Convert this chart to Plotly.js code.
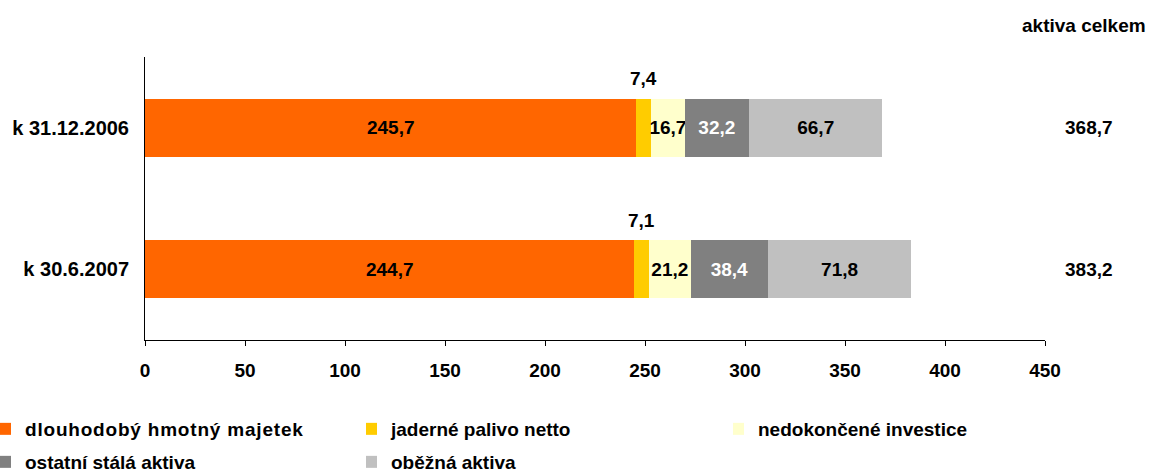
<!DOCTYPE html>
<html>
<head>
<meta charset="utf-8">
<script src="https://cdn.plot.ly/plotly-3.0.1.min.js"></script>
<style>
html,body{margin:0;padding:0;background:#fff;}
#chart{width:1151px;height:472px;}
.legendtext{letter-spacing:0.8px;}
</style>
</head>
<body>
<div id="chart"></div>
<script>
const categories = ["k 31.12.2006", "k 30.6.2007"];
const dlouhodoby = [245.7, 244.7];
const jaderne = [7.4, 7.1];
const nedokoncene = [16.7, 21.2];
const ostatni = [32.2, 38.4];
const obezna = [66.7, 71.8];
const totals = [368.7, 383.2];
const seriesNames = ["dlouhodobý hmotný majetek", "jaderné palivo netto", "nedokončené investice", "ostatní stálá aktiva", "oběžná aktiva"];
const totalTitle = "aktiva celkem";

const FONT = "Liberation Sans, Arial, sans-serif";
const fmt = v => v.toFixed(1).replace('.', ',');

// plot area in page pixels
const PL = 145, PR = 1045, PT = 57, PB = 340;
const PW = PR - PL, PH = PB - PT;

function barTrace(vals, name, color, textColor, showText, legendId) {
  return {
    type: 'bar', orientation: 'h', y: categories, x: vals, name: name,
    marker: {color: color, line: {width: 0}},
    text: showText ? vals.map(fmt) : null,
    textposition: showText ? 'inside' : 'none',
    insidetextanchor: 'middle',
    textangle: 0,
    constraintext: 'none',
    insidetextfont: {family: FONT, size: 19, weight: 'bold', color: textColor},
    legend: legendId,
    hoverinfo: 'x+name'
  };
}

const traces = [
  barTrace(dlouhodoby, seriesNames[0], '#FF6600', '#000000', true, 'legend'),
  barTrace(jaderne, seriesNames[1], '#FFCC00', '#000000', false, 'legend2'),
  barTrace(nedokoncene, seriesNames[2], '#FFFFCC', '#000000', true, 'legend3'),
  barTrace(ostatni, seriesNames[3], '#808080', '#FFFFFF', true, 'legend4'),
  barTrace(obezna, seriesNames[4], '#C0C0C0', '#000000', true, 'legend5')
];

const annFont = {family: FONT, size: 19, weight: 'bold', color: '#000'};
const annotations = [];
categories.forEach((c, i) => {
  annotations.push({
    x: dlouhodoby[i] + jaderne[i] / 2, y: c, xref: 'x', yref: 'y',
    text: fmt(jaderne[i]), showarrow: false, yshift: 49, font: annFont
  });
  annotations.push({
    x: (1089 - PL) / PW, y: c, xref: 'paper', yref: 'y',
    text: fmt(totals[i]), showarrow: false, xanchor: 'center', font: annFont
  });
});
annotations.push({
  x: (1148 - PL) / PW, y: (PB - 25) / PH, xref: 'paper', yref: 'paper', xanchor: 'right', yanchor: 'middle',
  text: totalTitle, showarrow: false, font: annFont
});

function legendAt(px, pyTop) {
  return {
    orientation: 'h', x: (px - PL) / PW, xanchor: 'left',
    y: (PB - pyTop) / PH, yanchor: 'top',
    indentation: -15, bgcolor: 'rgba(0,0,0,0)', borderwidth: 0,
    font: {family: FONT, size: 19, weight: 'bold', color: '#000'}
  };
}

const layout = {
  width: 1151, height: 472,
  margin: {l: PL, r: 1151 - PR, t: PT, b: 472 - PB, autoexpand: false},
  paper_bgcolor: '#fff', plot_bgcolor: '#fff',
  barmode: 'stack', bargap: 0.59,
  separators: ', ',
  font: {family: FONT, size: 19, weight: 'bold', color: '#000'},
  xaxis: {
    range: [0, 450], dtick: 50, tick0: 0, showgrid: false, zeroline: false,
    showline: true, linecolor: '#000', linewidth: 1,
    ticks: 'outside', ticklen: 5, tickcolor: '#000', tickwidth: 1,
    ticklabelstandoff: 8, automargin: false,
    tickfont: {family: FONT, size: 19, weight: 'bold', color: '#000'},
    fixedrange: true
  },
  yaxis: {
    type: 'category', range: [1.5, -0.5], showgrid: false, zeroline: false,
    showline: true, linecolor: '#000', linewidth: 1, ticks: '',
    ticklabelstandoff: 11, automargin: false,
    tickfont: {family: FONT, size: 20, weight: 'bold', color: '#000'},
    fixedrange: true
  },
  showlegend: true,
  legend: legendAt(0, 410),
  legend2: legendAt(366, 410),
  legend3: legendAt(733, 410),
  legend4: legendAt(0, 443),
  legend5: legendAt(366, 443),
  annotations: annotations
};

Plotly.newPlot('chart', traces, layout, {displayModeBar: false, staticPlot: true});
</script>
</body>
</html>
